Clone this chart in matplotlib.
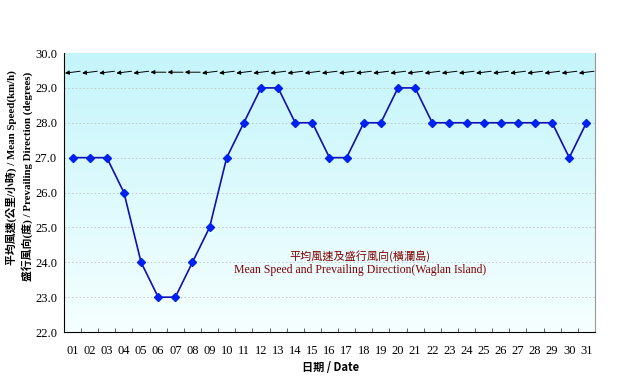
import numpy as np
import matplotlib.pyplot as plt
from matplotlib.colors import LinearSegmentedColormap

# daily data
days = np.arange(1, 32)
day_labels = ['%02d' % d for d in days]
speed = [27, 27, 27, 26, 24, 23, 23, 24, 25, 27, 28, 29, 29, 28, 28, 27,
         27, 28, 28, 29, 29, 28, 28, 28, 28, 28, 28, 28, 28, 27, 28]
direction = [80, 80, 80, 80, 80, 90, 90, 90, 80, 80, 80, 80, 80, 80, 80, 80,
             80, 80, 80, 80, 80, 80, 80, 80, 80, 80, 80, 80, 80, 80, 80]
arrow_y = 29.45

serif = ['Liberation Serif', 'Noto Sans CJK TC', 'DejaVu Sans']
cjk = ['Noto Sans CJK TC', 'DejaVu Sans']

fig = plt.figure(figsize=(6.31, 3.87), dpi=100)
ax = fig.add_axes([0.1014, 0.142, 0.8415, 0.721])

# gradient background
cmap = LinearSegmentedColormap.from_list('bg', ['#f6ffff', '#c4f5fb'])
grad = np.linspace(0, 1, 256).reshape(-1, 1)
ax.imshow(grad, cmap=cmap, origin='lower', aspect='auto',
          extent=[0.5, 31.5, 22, 30], zorder=0)

ax.set_xlim(0.5, 31.5)
ax.set_ylim(22, 30)

for yv in range(23, 30):
    ax.axhline(yv, color='#c4c4c4', lw=0.6, ls=(0, (2, 2.5)), zorder=1)

ax.plot(days, speed, color='#1010b0', lw=1.2, marker='D', ms=4.5,
        mfc='#0020ee', mec='#0020ee', zorder=3)

# wind direction arrows (from direction -> pointing downwind)
half = 0.45
for d, deg in zip(days, direction):
    th = np.deg2rad(deg)
    dx = -np.sin(th) * half
    dy = -np.cos(th) * half * 0.35
    ax.annotate('', xy=(d + dx, arrow_y + dy), xytext=(d - dx, arrow_y - dy),
                arrowprops=dict(arrowstyle='-|>', color='black', lw=0.7,
                                mutation_scale=6, shrinkA=0, shrinkB=0),
                zorder=4)

ax.set_yticks(np.arange(22, 30.1, 1))
ax.set_yticklabels(['%.1f' % v for v in np.arange(22, 30.1, 1)],
                   family=serif, fontsize=9)
ax.set_xticks(days)
ax.set_xticklabels(day_labels, family=serif, fontsize=9)
ax.tick_params(axis='x', which='major', length=0, pad=9)
ax.set_xticks(np.arange(1.5, 31, 1), minor=True)
ax.tick_params(axis='x', which='minor', direction='in', length=3, color='#444444')
ax.tick_params(axis='y', length=0, pad=5)

ax.spines['top'].set_visible(False)
ax.spines['right'].set_color('#999999')
ax.spines['right'].set_linewidth(0.8)
ax.spines['left'].set_color('black')
ax.spines['bottom'].set_color('black')

ax.text(0.557, 0.272, '平均風速及盛行風向(橫瀾島)', transform=ax.transAxes,
        ha='center', va='center', color='#800000', fontsize=8, family=cjk)
ax.text(0.557, 0.222, 'Mean Speed and Prevailing Direction(Waglan Island)',
        transform=ax.transAxes, ha='center', va='center', color='#800000',
        fontsize=8.5, family=serif)

fig.text(0.524, 0.05, '日期 / Date', ha='center', va='center',
         fontsize=8, family=cjk, weight='bold')
fig.text(0.018, 0.568, '平均風速(公里/小時) / Mean Speed(km/h)', rotation=90,
         ha='center', va='center', fontsize=7.8, family=serif, weight='bold')
fig.text(0.043, 0.543, '盛行風向(度) / Prevailing Direction (degrees)', rotation=90,
         ha='center', va='center', fontsize=7.8, family=serif, weight='bold')

fig.savefig('out.png', dpi=100)
